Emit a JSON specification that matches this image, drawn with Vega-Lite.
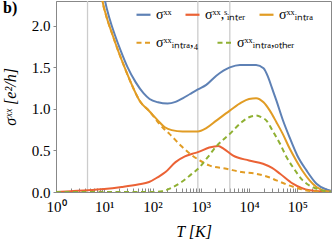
{
  "$schema": "https://vega.github.io/schema/vega-lite/v6.json",
  "autosize": {"type": "none"},
  "padding": {"left": 56, "top": 1, "right": 1, "bottom": 58},
  "width": 275,
  "height": 191,
  "title": {"text": "b)", "anchor": "start", "frame": "group", "orient": "top", "offset": 0, "dx": -53, "dy": 16, "font": "Liberation Serif", "fontSize": 16, "fontWeight": "bold", "color": "#000"},
  "config": {
    "view": {"stroke": "#888", "strokeWidth": 1},
    "font": "Liberation Serif",
    "axis": {"labelFont": "Liberation Serif", "labelFontSize": 15, "labelColor": "#000", "titleFont": "Liberation Serif", "titleFontSize": 16, "titleFontStyle": "italic", "titleFontWeight": "normal", "titleColor": "#000", "tickColor": "#888", "domainColor": "#888", "grid": false},
    "legend": {"labelFont": "Liberation Serif", "labelFontSize": 14, "labelColor": "#000", "labelOffset": 4, "labelLimit": 0, "symbolType": "stroke", "symbolSize": 196, "symbolStrokeWidth": 2.2, "columnPadding": 9}
  },
  "datasets": {
    "curves": [
        {"s": "σˣˣ", "T": 8, "v": 2.75}, {"s": "σˣˣ", "T": 10, "v": 2.35}, {"s": "σˣˣ", "T": 13, "v": 2.08}, {"s": "σˣˣ", "T": 16.4, "v": 1.9}, {"s": "σˣˣ", "T": 22, "v": 1.7}, {"s": "σˣˣ", "T": 30, "v": 1.51}, {"s": "σˣˣ", "T": 45, "v": 1.32}, {"s": "σˣˣ", "T": 65, "v": 1.19}, {"s": "σˣˣ", "T": 87, "v": 1.12}, {"s": "σˣˣ", "T": 130, "v": 1.08}, {"s": "σˣˣ", "T": 205, "v": 1.065}, {"s": "σˣˣ", "T": 300, "v": 1.085}, {"s": "σˣˣ", "T": 430, "v": 1.13}, {"s": "σˣˣ", "T": 600, "v": 1.18}, {"s": "σˣˣ", "T": 870, "v": 1.235}, {"s": "σˣˣ", "T": 1300, "v": 1.29}, {"s": "σˣˣ", "T": 2100, "v": 1.4}, {"s": "σˣˣ", "T": 4000, "v": 1.5}, {"s": "σˣˣ", "T": 6500, "v": 1.53}, {"s": "σˣˣ", "T": 14000, "v": 1.53}, {"s": "σˣˣ", "T": 20000, "v": 1.49}, {"s": "σˣˣ", "T": 25000, "v": 1.38}, {"s": "σˣˣ", "T": 30000, "v": 1.25}, {"s": "σˣˣ", "T": 37000, "v": 1.1}, {"s": "σˣˣ", "T": 50000, "v": 0.87}, {"s": "σˣˣ", "T": 69000, "v": 0.66}, {"s": "σˣˣ", "T": 100000, "v": 0.44}, {"s": "σˣˣ", "T": 155000, "v": 0.26}, {"s": "σˣˣ", "T": 250000, "v": 0.1}, {"s": "σˣˣ", "T": 400000, "v": 0.03}, {"s": "σˣˣ", "T": 500000, "v": 0.015},

        {"s": "σˣˣ,ˢᵢₙₜₑᵣ", "T": 1, "v": 0.0}, {"s": "σˣˣ,ˢᵢₙₜₑᵣ", "T": 2, "v": 0.01}, {"s": "σˣˣ,ˢᵢₙₜₑᵣ", "T": 4.5, "v": 0.02}, {"s": "σˣˣ,ˢᵢₙₜₑᵣ", "T": 10, "v": 0.035}, {"s": "σˣˣ,ˢᵢₙₜₑᵣ", "T": 23, "v": 0.06}, {"s": "σˣˣ,ˢᵢₙₜₑᵣ", "T": 50, "v": 0.09}, {"s": "σˣˣ,ˢᵢₙₜₑᵣ", "T": 85, "v": 0.12}, {"s": "σˣˣ,ˢᵢₙₜₑᵣ", "T": 130, "v": 0.18}, {"s": "σˣˣ,ˢᵢₙₜₑᵣ", "T": 186, "v": 0.24}, {"s": "σˣˣ,ˢᵢₙₜₑᵣ", "T": 300, "v": 0.36}, {"s": "σˣˣ,ˢᵢₙₜₑᵣ", "T": 470, "v": 0.43}, {"s": "σˣˣ,ˢᵢₙₜₑᵣ", "T": 676, "v": 0.46}, {"s": "σˣˣ,ˢᵢₙₜₑᵣ", "T": 870, "v": 0.48}, {"s": "σˣˣ,ˢᵢₙₜₑᵣ", "T": 1500, "v": 0.535}, {"s": "σˣˣ,ˢᵢₙₜₑᵣ", "T": 2300, "v": 0.555}, {"s": "σˣˣ,ˢᵢₙₜₑᵣ", "T": 3000, "v": 0.52}, {"s": "σˣˣ,ˢᵢₙₜₑᵣ", "T": 4600, "v": 0.44}, {"s": "σˣˣ,ˢᵢₙₜₑᵣ", "T": 10000, "v": 0.38}, {"s": "σˣˣ,ˢᵢₙₜₑᵣ", "T": 19500, "v": 0.34}, {"s": "σˣˣ,ˢᵢₙₜₑᵣ", "T": 30000, "v": 0.29}, {"s": "σˣˣ,ˢᵢₙₜₑᵣ", "T": 44000, "v": 0.22}, {"s": "σˣˣ,ˢᵢₙₜₑᵣ", "T": 81000, "v": 0.1}, {"s": "σˣˣ,ˢᵢₙₜₑᵣ", "T": 182000, "v": 0.02}, {"s": "σˣˣ,ˢᵢₙₜₑᵣ", "T": 500000, "v": 0.0},

        {"s": "σˣˣᵢₙₜᵣₐ", "T": 8, "v": 2.55}, {"s": "σˣˣᵢₙₜᵣₐ", "T": 9.2, "v": 2.3}, {"s": "σˣˣᵢₙₜᵣₐ", "T": 11, "v": 2.12}, {"s": "σˣˣᵢₙₜᵣₐ", "T": 14.7, "v": 1.9}, {"s": "σˣˣᵢₙₜᵣₐ", "T": 20, "v": 1.68}, {"s": "σˣˣᵢₙₜᵣₐ", "T": 26.4, "v": 1.5}, {"s": "σˣˣᵢₙₜᵣₐ", "T": 38, "v": 1.28}, {"s": "σˣˣᵢₙₜᵣₐ", "T": 54, "v": 1.1}, {"s": "σˣˣᵢₙₜᵣₐ", "T": 87, "v": 0.97}, {"s": "σˣˣᵢₙₜᵣₐ", "T": 130, "v": 0.86}, {"s": "σˣˣᵢₙₜᵣₐ", "T": 180, "v": 0.78}, {"s": "σˣˣᵢₙₜᵣₐ", "T": 250, "v": 0.745}, {"s": "σˣˣᵢₙₜᵣₐ", "T": 420, "v": 0.73}, {"s": "σˣˣᵢₙₜᵣₐ", "T": 870, "v": 0.73}, {"s": "σˣˣᵢₙₜᵣₐ", "T": 1300, "v": 0.77}, {"s": "σˣˣᵢₙₜᵣₐ", "T": 2100, "v": 0.86}, {"s": "σˣˣᵢₙₜᵣₐ", "T": 4000, "v": 0.98}, {"s": "σˣˣᵢₙₜᵣₐ", "T": 7000, "v": 1.08}, {"s": "σˣˣᵢₙₜᵣₐ", "T": 10000, "v": 1.12}, {"s": "σˣˣᵢₙₜᵣₐ", "T": 14000, "v": 1.13}, {"s": "σˣˣᵢₙₜᵣₐ", "T": 20000, "v": 1.08}, {"s": "σˣˣᵢₙₜᵣₐ", "T": 27000, "v": 0.98}, {"s": "σˣˣᵢₙₜᵣₐ", "T": 37000, "v": 0.84}, {"s": "σˣˣᵢₙₜᵣₐ", "T": 50000, "v": 0.7}, {"s": "σˣˣᵢₙₜᵣₐ", "T": 70000, "v": 0.52}, {"s": "σˣˣᵢₙₜᵣₐ", "T": 95000, "v": 0.38}, {"s": "σˣˣᵢₙₜᵣₐ", "T": 130000, "v": 0.25}, {"s": "σˣˣᵢₙₜᵣₐ", "T": 180000, "v": 0.14}, {"s": "σˣˣᵢₙₜᵣₐ", "T": 250000, "v": 0.06}, {"s": "σˣˣᵢₙₜᵣₐ", "T": 400000, "v": 0.01}, {"s": "σˣˣᵢₙₜᵣₐ", "T": 500000, "v": 0.005},

        {"s": "σˣˣᵢₙₜᵣₐ,₄", "T": 8, "v": 2.55}, {"s": "σˣˣᵢₙₜᵣₐ,₄", "T": 9.2, "v": 2.3}, {"s": "σˣˣᵢₙₜᵣₐ,₄", "T": 11, "v": 2.12}, {"s": "σˣˣᵢₙₜᵣₐ,₄", "T": 14.7, "v": 1.9}, {"s": "σˣˣᵢₙₜᵣₐ,₄", "T": 20, "v": 1.68}, {"s": "σˣˣᵢₙₜᵣₐ,₄", "T": 26.4, "v": 1.5}, {"s": "σˣˣᵢₙₜᵣₐ,₄", "T": 38, "v": 1.28}, {"s": "σˣˣᵢₙₜᵣₐ,₄", "T": 54, "v": 1.1}, {"s": "σˣˣᵢₙₜᵣₐ,₄", "T": 87, "v": 0.97}, {"s": "σˣˣᵢₙₜᵣₐ,₄", "T": 130, "v": 0.84}, {"s": "σˣˣᵢₙₜᵣₐ,₄", "T": 180, "v": 0.75}, {"s": "σˣˣᵢₙₜᵣₐ,₄", "T": 224, "v": 0.7}, {"s": "σˣˣᵢₙₜᵣₐ,₄", "T": 400, "v": 0.55}, {"s": "σˣˣᵢₙₜᵣₐ,₄", "T": 600, "v": 0.46}, {"s": "σˣˣᵢₙₜᵣₐ,₄", "T": 950, "v": 0.38}, {"s": "σˣˣᵢₙₜᵣₐ,₄", "T": 1500, "v": 0.32}, {"s": "σˣˣᵢₙₜᵣₐ,₄", "T": 3400, "v": 0.28}, {"s": "σˣˣᵢₙₜᵣₐ,₄", "T": 7000, "v": 0.24}, {"s": "σˣˣᵢₙₜᵣₐ,₄", "T": 14000, "v": 0.22}, {"s": "σˣˣᵢₙₜᵣₐ,₄", "T": 25000, "v": 0.18}, {"s": "σˣˣᵢₙₜᵣₐ,₄", "T": 37000, "v": 0.14}, {"s": "σˣˣᵢₙₜᵣₐ,₄", "T": 60000, "v": 0.09}, {"s": "σˣˣᵢₙₜᵣₐ,₄", "T": 110000, "v": 0.04}, {"s": "σˣˣᵢₙₜᵣₐ,₄", "T": 200000, "v": 0.01}, {"s": "σˣˣᵢₙₜᵣₐ,₄", "T": 500000, "v": 0.0},

        {"s": "σˣˣᵢₙₜᵣₐ,ₒₜₕₑᵣ", "T": 1, "v": 0.0}, {"s": "σˣˣᵢₙₜᵣₐ,ₒₜₕₑᵣ", "T": 100, "v": 0.0}, {"s": "σˣˣᵢₙₜᵣₐ,ₒₜₕₑᵣ", "T": 160, "v": 0.01}, {"s": "σˣˣᵢₙₜᵣₐ,ₒₜₕₑᵣ", "T": 250, "v": 0.05}, {"s": "σˣˣᵢₙₜᵣₐ,ₒₜₕₑᵣ", "T": 400, "v": 0.12}, {"s": "σˣˣᵢₙₜᵣₐ,ₒₜₕₑᵣ", "T": 600, "v": 0.2}, {"s": "σˣˣᵢₙₜᵣₐ,ₒₜₕₑᵣ", "T": 950, "v": 0.3}, {"s": "σˣˣᵢₙₜᵣₐ,ₒₜₕₑᵣ", "T": 1400, "v": 0.42}, {"s": "σˣˣᵢₙₜᵣₐ,ₒₜₕₑᵣ", "T": 2100, "v": 0.55}, {"s": "σˣˣᵢₙₜᵣₐ,ₒₜₕₑᵣ", "T": 4000, "v": 0.7}, {"s": "σˣˣᵢₙₜᵣₐ,ₒₜₕₑᵣ", "T": 7000, "v": 0.84}, {"s": "σˣˣᵢₙₜᵣₐ,ₒₜₕₑᵣ", "T": 10000, "v": 0.9}, {"s": "σˣˣᵢₙₜᵣₐ,ₒₜₕₑᵣ", "T": 14000, "v": 0.92}, {"s": "σˣˣᵢₙₜᵣₐ,ₒₜₕₑᵣ", "T": 18000, "v": 0.9}, {"s": "σˣˣᵢₙₜᵣₐ,ₒₜₕₑᵣ", "T": 23000, "v": 0.86}, {"s": "σˣˣᵢₙₜᵣₐ,ₒₜₕₑᵣ", "T": 30000, "v": 0.75}, {"s": "σˣˣᵢₙₜᵣₐ,ₒₜₕₑᵣ", "T": 44000, "v": 0.58}, {"s": "σˣˣᵢₙₜᵣₐ,ₒₜₕₑᵣ", "T": 60000, "v": 0.42}, {"s": "σˣˣᵢₙₜᵣₐ,ₒₜₕₑᵣ", "T": 81000, "v": 0.3}, {"s": "σˣˣᵢₙₜᵣₐ,ₒₜₕₑᵣ", "T": 130000, "v": 0.14}, {"s": "σˣˣᵢₙₜᵣₐ,ₒₜₕₑᵣ", "T": 250000, "v": 0.04}, {"s": "σˣˣᵢₙₜᵣₐ,ₒₜₕₑᵣ", "T": 500000, "v": 0.0}
    ]
  },
  "layer": [
    {
      "data": {"values": [{"T": 4.5}, {"T": 870}, {"T": 4000}]},
      "mark": {"type": "rule", "color": "#cccccc", "strokeWidth": 1.3},
      "encoding": {"x": {"field": "T", "type": "quantitative", "scale": {"type": "log", "domain": [1, 500000], "nice": false}}}
    },
    {
      "data": {"name": "curves"},
      "transform": [{"filter": {"field": "s", "oneOf": ["σˣˣ", "σˣˣ,ˢᵢₙₜₑᵣ", "σˣˣᵢₙₜᵣₐ"]}}],
      "mark": {"type": "line", "interpolate": "monotone", "clip": true, "strokeWidth": 2},
      "encoding": {
        "x": {
          "field": "T", "type": "quantitative",
          "scale": {"type": "log", "domain": [1, 500000], "nice": false},
          "axis": {
            "title": "T [K]", "titlePadding": 9,
            "values": [1,2,3,4,5,6,7,8,9,10,20,30,40,50,60,70,80,90,100,200,300,400,500,600,700,800,900,1000,2000,3000,4000,5000,6000,7000,8000,9000,10000,20000,30000,40000,50000,60000,70000,80000,90000,100000,200000,300000,400000,500000],
            "labelExpr": "abs(log(datum.value)/LN10 - round(log(datum.value)/LN10)) < 0.001 ? ['10⁰','10¹','10²','10³','10⁴','10⁵'][round(log(datum.value)/LN10)] : ''",
            "labelOverlap": false, "labelFlush": false, "labelPadding": 11, "tickSize": -4
          }
        },
        "y": {
          "field": "v", "type": "quantitative",
          "scale": {"domain": [0, 2.3], "nice": false},
          "axis": {
            "title": "σˣˣ [e²/h]", "titlePadding": 13,
            "values": [0, 0.5, 1, 1.5, 2], "format": ".1f", "labelPadding": 3, "tickSize": 3
          }
        },
        "color": {
          "field": "s", "type": "nominal",
          "scale": {"domain": ["σˣˣ", "σˣˣ,ˢᵢₙₜₑᵣ", "σˣˣᵢₙₜᵣₐ"], "range": ["#5E81B5", "#EB6235", "#E19C24"]},
          "legend": {"title": null, "orient": "none", "legendX": 79, "legendY": 5, "direction": "horizontal", "columns": 3}
        }
      }
    },
    {
      "data": {"name": "curves"},
      "transform": [{"filter": {"field": "s", "oneOf": ["σˣˣᵢₙₜᵣₐ,₄", "σˣˣᵢₙₜᵣₐ,ₒₜₕₑᵣ"]}}],
      "mark": {"type": "line", "interpolate": "monotone", "clip": true, "strokeWidth": 2, "strokeDash": [5, 3.5]},
      "encoding": {
        "x": {"field": "T", "type": "quantitative", "scale": {"type": "log", "domain": [1, 500000], "nice": false}},
        "y": {"field": "v", "type": "quantitative", "scale": {"domain": [0, 2.3], "nice": false}},
        "color": {
          "field": "s", "type": "nominal",
          "scale": {"domain": ["σˣˣᵢₙₜᵣₐ,₄", "σˣˣᵢₙₜᵣₐ,ₒₜₕₑᵣ"], "range": ["#E19C24", "#8FB032"]},
          "legend": {"title": null, "orient": "none", "legendX": 79, "legendY": 33, "direction": "horizontal", "columns": 2, "symbolDash": [5, 3.5], "columnPadding": 14}
        }
      }
    }
  ],
  "resolve": {"scale": {"color": "independent"}, "legend": {"color": "independent"}}
}
